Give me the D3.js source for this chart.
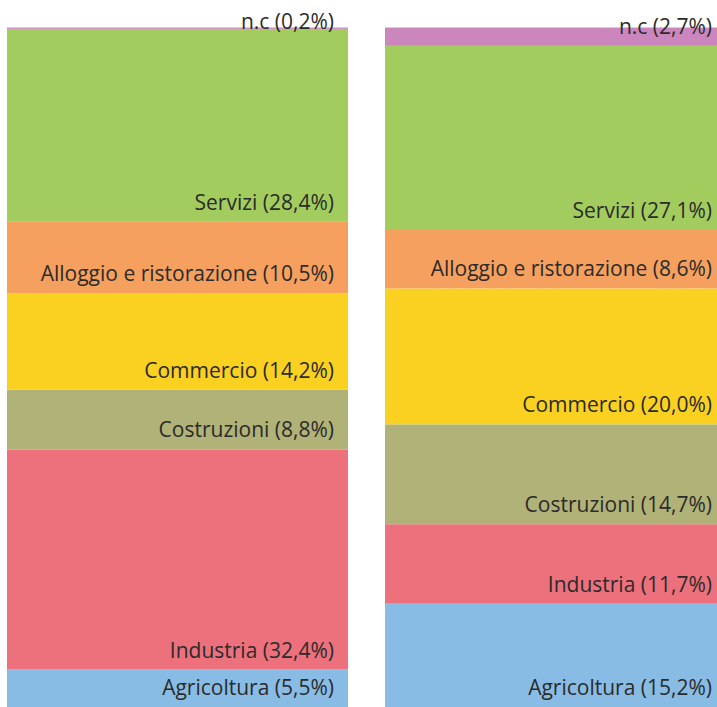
<!DOCTYPE html>
<html><head><meta charset="utf-8">
<script src="https://cdn.jsdelivr.net/npm/d3@7"></script>
<style>body{margin:0;background:#fff}svg{display:block}</style>
</head><body>
<svg id="c" width="717" height="707"></svg>
<script>
const sectors = ["Agricoltura","Industria","Costruzioni","Commercio","Alloggio e ristorazione","Servizi","n.c"];
const groups = ["A","B"];
const valuesA = [5.5,32.4,8.8,14.2,10.5,28.4,0.2];
const valuesB = [15.2,11.7,14.7,20.0,8.6,27.1,2.7];
const colors = ["#88bce5","#ed717c","#b1b277","#fad021","#f5a05e","#a2cd5e","#cb87bd"];

const svg = d3.select("#c");
const x = d3.scaleBand().domain(groups).range([7, 7 + 2*341 + 37]).paddingInner(37/378).paddingOuter(0);
const y = d3.scaleLinear().domain([0,100]).range([707, 27.5]);
const color = d3.scaleOrdinal().domain(sectors).range(colors);

const table = groups.map(g=>{const o={group:g}; sectors.forEach((s,i)=>o[s]=(g==="A"?valuesA:valuesB)[i]); return o;});
const series = d3.stack().keys(sectors)(table);

const fmt = v => v.toFixed(1).replace(".", ",");

series.forEach(ser=>{
  ser.forEach(d=>{
    svg.append("rect")
      .attr("x", x(d.data.group)).attr("width", x.bandwidth())
      .attr("y", y(d[1])).attr("height", y(d[0]) - y(d[1]))
      .attr("fill", color(ser.key));
  });
});
series.forEach(ser=>{
  ser.forEach(d=>{
    const g = d.data.group;
    const base = Math.max(y(d[0]) - 12, 29);
    svg.append("text")
      .attr("x", x(g) + x.bandwidth() - 14)
      .attr("y", base)
      .attr("text-anchor","end")
      .attr("font-family","'Open Sans', sans-serif")
      .attr("font-size", 21)
      .attr("fill","#2b2b2b")
      .text(`${ser.key} (${fmt(d.data[ser.key])}%)`);
  });
});
</script>
</body></html>
